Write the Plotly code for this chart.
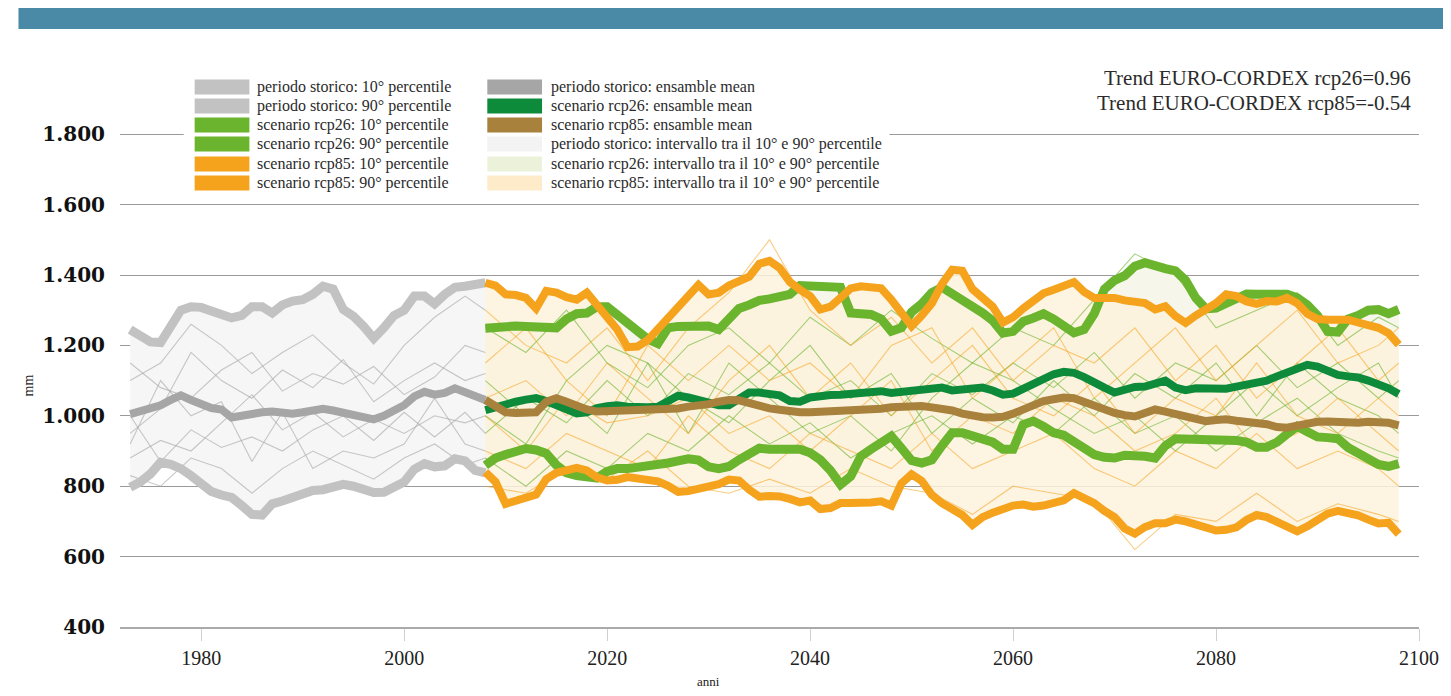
import plotly.graph_objects as go

# ---------------- DATA ----------------
hist_years = list(range(1973, 2009))
scen_years = list(range(2008, 2099))

hist_p90 = [1245,1225,1210,1208,1255,1300,1310,1308,1298,1288,1278,1285,1310,1310,1292,1315,1326,1330,
            1345,1368,1360,1302,1283,1254,1220,1250,1285,1300,1340,1340,1318,1345,1365,1368,1370,1378]
hist_mean = [1005,1012,1018,1030,1045,1058,1045,1032,1022,1018,995,1000,1006,1010,1012,1008,1006,1010,
             1014,1020,1015,1008,1000,995,990,1000,1012,1030,1055,1068,1060,1065,1078,1066,1052,1045]
hist_p10 = [797,812,835,868,862,850,830,805,785,775,768,745,720,718,750,758,770,782,
            788,790,795,805,800,790,782,783,795,812,848,864,855,858,878,872,845,838]

rcp85_p90 = [1378,1370,1345,1343,1335,1305,1355,1350,1337,1330,1350,1312,1282,1245,1195,1197,1215,1245,
             1280,1310,1340,1372,1345,1350,1370,1385,1395,1432,1440,1420,1380,1358,1340,1302,1310,1335,
             1362,1368,1364,1362,1330,1288,1255,1285,1320,1375,
             1415,1412,1360,1335,1310,1265,1280,1305,1325,1348,1358,1368,1380,1352,1335,1335,1335,1328,
             1325,1320,1302,1311,1283,1264,1285,1300,1320,1345,1340,1325,1318,1326,1325,1335,1320,1290,
             1275,1273,1275,1273,1265,1256,1250,1235,1202]
rcp26_p90 = [1249,1253,1255,1255,1254,1252,1250,1250,1275,1290,1292,1310,1310,1285,1262,1242,1218,1205,
             1250,1254,1255,1258,1255,1245,1280,1305,1315,1328,1332,1336,1345,1370,1368,1370,1365,1365,
             1292,1290,1288,1275,1240,1250,1295,1318,1350,1365,
             1348,1330,1308,1292,1270,1235,1240,1268,1278,1290,1275,1252,1236,1245,1290,1360,1385,1398,
             1425,1435,1425,1418,1412,1385,1335,1304,1306,1320,1338,1346,1345,1345,1345,1345,1335,1315,
             1285,1240,1238,1275,1285,1300,1302,1290,1302]
rcp26_mean = [1016,1025,1033,1040,1046,1050,1042,1030,1013,1007,1010,1022,1027,1030,1026,1024,1024,1026,
              1040,1057,1052,1045,1038,1030,1030,1050,1066,1066,1062,1058,1042,1040,1052,1058,1059,1060,
              1063,1062,1064,1070,1065,1068,1069,1072,1077,1080,
              1072,1075,1080,1080,1072,1060,1063,1078,1092,1108,1118,1125,1122,1110,1098,1080,1066,1075,
              1082,1083,1090,1100,1080,1073,1078,1076,1074,1077,1083,1088,1092,1100,1112,1122,1133,1145,
              1140,1128,1116,1112,1109,1100,1090,1078,1062]
rcp85_mean = [1045,1028,1010,1008,1010,1010,1040,1050,1040,1027,1018,1012,1013,1016,1016,1018,1017,1016,
              1018,1021,1026,1028,1033,1040,1045,1044,1035,1026,1021,1017,1011,1010,1010,1011,1012,1011,
              1012,1014,1016,1020,1024,1027,1030,1028,1024,1020,
              1015,1006,999,996,995,997,1006,1018,1032,1042,1047,1052,1050,1040,1026,1015,1008,1002,
              998,1008,1018,1012,1005,998,990,985,988,990,986,983,982,976,968,966,972,978,983,984,
              981,978,980,983,983,980,973]
rcp26_p10 = [859,880,890,900,907,903,893,860,838,830,827,823,842,850,850,853,856,860,866,872,878,874,
             855,850,856,875,895,908,905,905,910,905,895,875,845,805,828,885,905,925,942,908,873,866,875,915,
             952,952,942,935,925,905,905,975,985,970,952,945,925,905,890,882,880,888,888,885,880,915,
             935,935,935,932,932,935,930,925,911,911,925,948,970,955,940,938,935,910,895,880,862,856,864]
rcp85_p10 = [840,812,750,759,763,776,820,838,845,852,845,825,816,818,826,822,820,814,801,784,786,792,
             798,806,819,816,790,770,772,771,764,754,759,735,738,752,752,751,754,757,745,808,834,815,775,752,
             735,718,690,712,725,738,745,748,742,745,752,760,780,765,752,730,712,680,665,684,695,695,
             705,700,692,680,674,676,683,704,718,712,700,690,672,686,705,722,730,724,717,705,694,696,664]

# individual model runs (thin lines)
hist_thin_years = [1973, 1976, 1979, 1982, 1985, 1988, 1991, 1994, 1997, 2000, 2003, 2006, 2008]
hist_thin = [
    [1100,1150,1260,1200,1120,1180,1230,1150,1090,1200,1280,1340,1300],
    [950,1020,1180,1100,1050,1130,1080,1160,1040,1100,1150,1100,1120],
    [880,930,900,980,1060,960,1010,940,990,950,1000,980,1000],
    [830,800,880,850,780,850,900,860,820,880,920,860,880],
    [1150,1080,1050,1130,1180,1070,1120,1090,1140,1060,1110,1200,1180],
    [1000,870,960,910,940,900,960,1000,930,1010,940,1010,950],
    [920,1100,1000,1040,870,1010,850,900,880,920,1050,920,900],
]
scen_thin_years = [2008,2012,2016,2020,2024,2028,2032,2036,2040,2044,2048,2052,
                   2056,2060,2064,2068,2072,2076,2080,2084,2088,2092,2096,2098]
rcp26_thin = [
    [1250,1180,1300,1150,1080,1200,1250,1150,1280,1200,1300,1220,1150,1250,1200,1330,1460,1400,1250,1300,1350,1200,1280,1250],
    [950,1050,980,1100,1000,1120,1060,1150,1050,1100,1000,1120,1060,1150,1080,1180,1050,1150,1100,1200,1080,1150,1050,1100],
    [880,800,900,850,950,900,1000,920,980,880,950,1000,920,1000,950,1050,950,1000,900,980,1050,950,900,880],
    [1100,1000,1050,950,1150,1050,980,1100,1200,1050,1120,950,1050,980,1100,1000,1120,1050,1150,1000,1150,1050,1000,950],
    [1000,920,1100,1200,1150,950,1150,1050,950,1000,900,1050,1150,1100,1020,950,1000,900,1000,1100,1000,1080,1150,1050],
]
rcp85_thin = [
    [1300,1200,1150,1250,1100,1250,1350,1500,1300,1200,1280,1150,1250,1100,1200,1150,1250,1100,1200,1050,1150,1250,1100,1150],
    [1050,1100,1000,1150,1050,950,1100,1200,1050,1150,1000,1100,1200,1050,1000,1100,950,1050,1000,1150,1000,950,1050,1000],
    [900,850,950,900,850,1000,900,850,950,900,850,950,850,900,950,850,800,900,850,950,850,900,850,800],
    [800,780,850,820,900,800,780,820,780,850,800,780,720,800,780,760,620,720,700,780,700,750,720,700],
    [1150,1250,1100,1000,1200,1100,1200,1100,1150,1050,1200,1250,1050,1150,1250,1050,1150,1250,1100,1200,1300,1150,1200,1250],
    [1000,900,1050,980,1000,1050,950,1000,900,1000,1100,900,1000,950,1050,1000,900,950,1050,900,950,1050,950,900],
]

y_tickvals = [400, 600, 800, 1000, 1200, 1400, 1600, 1800]
y_ticktext = ["400", "600", "800", "1.000", "1.200", "1.400", "1.600", "1.800"]
x_tickvals = [1980, 2000, 2020, 2040, 2060, 2080, 2100]

legend_col1 = ["periodo storico: 10° percentile", "periodo storico: 90° percentile",
               "scenario rcp26: 10° percentile", "scenario rcp26: 90° percentile",
               "scenario rcp85: 10° percentile", "scenario rcp85: 90° percentile"]
legend_col2 = ["periodo storico: ensamble mean", "scenario rcp26: ensamble mean",
               "scenario rcp85: ensamble mean",
               "periodo storico: intervallo tra il 10° e 90° percentile",
               "scenario rcp26: intervallo tra il 10° e 90° percentile",
               "scenario rcp85: intervallo tra il 10° e 90° percentile"]
trend_texts = ["Trend EURO-CORDEX rcp26=0.96", "Trend EURO-CORDEX rcp85=-0.54"]

# ---------------- STYLE ----------------
C_HIST_P = "#c2c2c2"
C_HIST_M = "#a6a6a6"
C_R26_P = "#6ab42e"
C_R26_M = "#0e8b3a"
C_R85_P = "#f5a21c"
C_R85_M = "#a8813c"
C_HIST_B = "#f3f3f3"
C_R26_B = "#ecf2da"
C_R85_B = "#fdebca"
col1_colors = [C_HIST_P, C_HIST_P, C_R26_P, C_R26_P, C_R85_P, C_R85_P]
col2_colors = [C_HIST_M, C_R26_M, C_R85_M, C_HIST_B, C_R26_B, C_R85_B]

OFF = 8  # page body margin
W, H = 1451 - OFF, 696 - OFF
# plot area in reference-picture pixels: x 120..1425, y 99..627
PL, PR, PT, PB = 120, 1425, 99, 627
ML, MR, MT, MB = PL - OFF, (W + OFF) - PR, PT - OFF, (H + OFF) - PB
PW, PH = PR - PL, PB - PT


def px(x):
    return (x - PL) / PW


def py(y):
    return (PB - y) / PH


SERIF = "Liberation Serif"

fig = go.Figure()


def band(xs, lo, hi, color):
    fig.add_trace(go.Scatter(x=xs, y=hi, mode="lines", line=dict(width=0), hoverinfo="skip", showlegend=False))
    fig.add_trace(go.Scatter(x=xs, y=lo, mode="lines", line=dict(width=0), fill="tonexty",
                             fillcolor=color, hoverinfo="skip", showlegend=False))


band(hist_years, hist_p10, hist_p90, "#f6f6f6")
band(scen_years, rcp26_p10, rcp26_p90, "#f6f6ea")
band(scen_years, rcp85_p10, rcp85_p90, "rgba(253,242,220,0.85)")

for s in hist_thin:
    fig.add_trace(go.Scatter(x=hist_thin_years, y=s, mode="lines",
                             line=dict(color="rgba(170,170,170,0.65)", width=1.1), showlegend=False))
for s in rcp26_thin:
    fig.add_trace(go.Scatter(x=scen_thin_years, y=s, mode="lines",
                             line=dict(color="rgba(106,180,46,0.6)", width=1.1), showlegend=False))
for s in rcp85_thin:
    fig.add_trace(go.Scatter(x=scen_thin_years, y=s, mode="lines",
                             line=dict(color="rgba(245,162,28,0.55)", width=1.1), showlegend=False))


def thick(xs, ys, color, w):
    fig.add_trace(go.Scatter(x=xs, y=ys, mode="lines", line=dict(color=color, width=w),
                             showlegend=False))


thick(hist_years, hist_p90, C_HIST_P, 9)
thick(hist_years, hist_p10, C_HIST_P, 9)
thick(scen_years, rcp26_p90, C_R26_P, 9)
thick(scen_years, rcp26_p10, C_R26_P, 9)
thick(scen_years, rcp85_p90, C_R85_P, 8)
thick(scen_years, rcp85_p10, C_R85_P, 8)
thick(hist_years, hist_mean, C_HIST_M, 8)
thick(scen_years, rcp26_mean, C_R26_M, 8)
thick(scen_years, rcp85_mean, C_R85_M, 8)

shapes = []
# top banner
shapes.append(dict(type="rect", xref="paper", yref="paper", x0=px(18), x1=px(1460), y0=py(29), y1=py(5),
                   fillcolor="#4a8aa7", line=dict(width=0), layer="above"))
# white backdrop of the legend (hides the 1.800 gridline)
shapes.append(dict(type="rect", xref="paper", yref="paper", x0=px(184), x1=px(893), y0=py(196), y1=py(72),
                   fillcolor="white", line=dict(width=0), layer="above"))

annotations = []
row_y = [87, 106, 125, 144, 164, 183]
for i in range(6):
    shapes.append(dict(type="rect", xref="paper", yref="paper", x0=px(195), x1=px(250),
                       y0=py(row_y[i] + 7.5), y1=py(row_y[i] - 7.5), fillcolor=col1_colors[i],
                       line=dict(width=0), layer="above"))
    shapes.append(dict(type="rect", xref="paper", yref="paper", x0=px(489), x1=px(544),
                       y0=py(row_y[i] + 7.5), y1=py(row_y[i] - 7.5), fillcolor=col2_colors[i],
                       line=dict(width=0), layer="above"))
    annotations.append(dict(text=legend_col1[i], xref="paper", yref="paper", x=px(256), y=py(row_y[i]),
                            xanchor="left", yanchor="middle", showarrow=False,
                            font=dict(family=SERIF, size=16, color="#2b2b2b")))
    annotations.append(dict(text=legend_col2[i], xref="paper", yref="paper", x=px(551), y=py(row_y[i]),
                            xanchor="left", yanchor="middle", showarrow=False,
                            font=dict(family=SERIF, size=16, color="#2b2b2b")))

for i, t in enumerate(trend_texts):
    annotations.append(dict(text=t, xref="paper", yref="paper", x=px(1419), y=py(78 + 25 * i),
                            xanchor="right", yanchor="middle", showarrow=False,
                            font=dict(family=SERIF, size=21, color="#2b2b2b")))

annotations.append(dict(text="mm", xref="paper", yref="paper", x=px(28), y=py(385), textangle=-90,
                        xanchor="center", yanchor="middle", showarrow=False,
                        font=dict(family=SERIF, size=14, color="#222")))
annotations.append(dict(text="anni", xref="x", yref="paper", x=2030, y=py(681),
                        xanchor="center", yanchor="middle", showarrow=False,
                        font=dict(family=SERIF, size=13, color="#222")))

fig.update_layout(
    width=W, height=H,
    margin=dict(l=ML, r=MR, t=MT, b=MB),
    paper_bgcolor="white", plot_bgcolor="white",
    shapes=shapes, annotations=annotations, showlegend=False,
    xaxis=dict(range=[1972, 2100], tickvals=x_tickvals, showgrid=False, zeroline=False,
               showline=True, linecolor="#aaaaaa", linewidth=1.5,
               ticks="outside", ticklen=12, tickcolor="#d0d0d0", tickwidth=1,
               tickfont=dict(family=SERIF, size=20, color="#222"), ticklabelstandoff=0),
    yaxis=dict(range=[400, 1900], tickvals=y_tickvals, ticktext=y_ticktext,
               showgrid=True, gridcolor="#9a9a9a", gridwidth=1, zeroline=False, showline=False,
               tickfont=dict(family="DejaVu Serif", size=20, color="#111", weight="bold"),
               ticklabelstandoff=14),
)

fig.write_html("out.html")
